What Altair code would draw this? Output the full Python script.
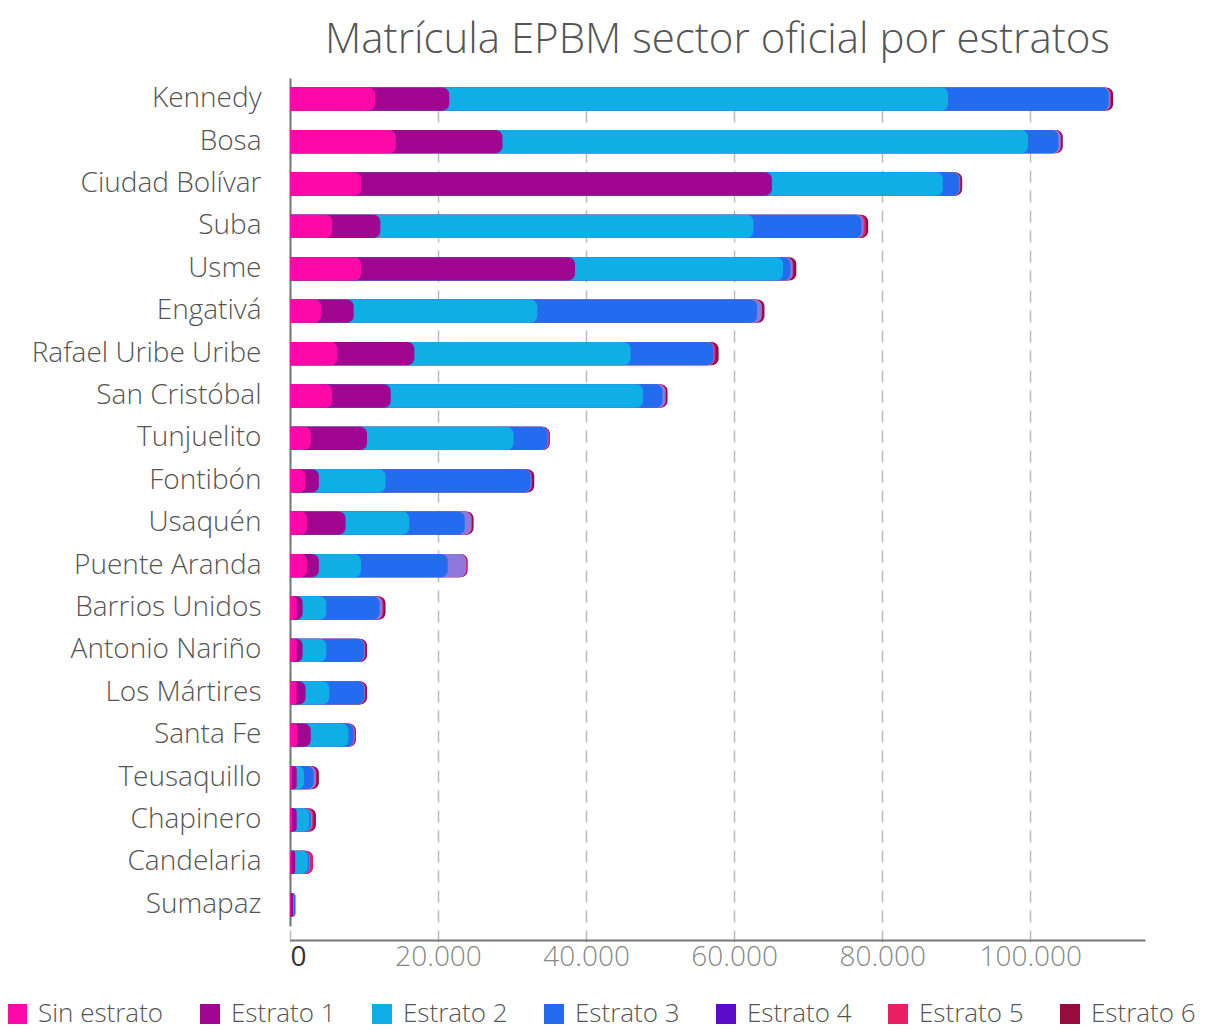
import altair as alt
import pandas as pd

localidades = ["Kennedy", "Bosa", "Ciudad Bolívar", "Suba", "Usme", "Engativá",
               "Rafael Uribe Uribe", "San Cristóbal", "Tunjuelito", "Fontibón",
               "Usaquén", "Puente Aranda", "Barrios Unidos", "Antonio Nariño",
               "Los Mártires", "Santa Fe", "Teusaquillo", "Chapinero",
               "Candelaria", "Sumapaz"]

categorias = ["Sin estrato", "Estrato 1", "Estrato 2", "Estrato 3",
              "Estrato 4", "Estrato 5", "Estrato 6"]

sin_estrato = [11500, 14300, 9600, 5700, 9600, 4200, 6400, 5700, 2800, 2100,
               2300, 2300, 900, 900, 900, 1000, 300, 300, 200, 100]
estrato_1 = [10000, 14400, 55500, 6500, 28900, 4400, 10400, 7900, 7600, 1800,
             5200, 1600, 800, 800, 1200, 1800, 600, 600, 500, 300]
estrato_2 = [67400, 71000, 23100, 50400, 28100, 24800, 29200, 34100, 19800, 9000,
             8600, 5700, 3200, 3200, 3200, 5100, 1000, 1700, 1700, 100]
estrato_3 = [21700, 4100, 2200, 14600, 1000, 29700, 11200, 2600, 4600, 19600,
             7500, 11700, 7200, 5100, 4700, 700, 1300, 200, 200, 200]
estrato_4 = [200, 300, 100, 300, 300, 600, 100, 400, 100, 100,
             900, 2500, 400, 100, 100, 100, 300, 200, 100, 0]
estrato_5 = [100, 100, 100, 300, 100, 100, 200, 100, 100, 100,
             100, 100, 100, 100, 100, 100, 100, 200, 400, 0]
estrato_6 = [300, 200, 200, 300, 400, 300, 400, 200, 100, 300,
             200, 100, 300, 200, 200, 100, 300, 300, 0, 0]

series = [sin_estrato, estrato_1, estrato_2, estrato_3, estrato_4, estrato_5, estrato_6]

legend_colors = ["#FF0AA8", "#A0068F", "#10AEE6", "#236CEF", "#5A0AC8", "#E91E63", "#990A3D"]
bar_colors = ["#FF0AA8", "#A0068F", "#10AEE6", "#236CEF", "#8E78DC", "#E91E63", "#990A3D"]

rows = []
for i, loc in enumerate(localidades):
    cum = 0
    for k, cat in enumerate(categorias):
        val = series[k][i]
        cum += val
        rows.append({"localidad": loc, "categoria": cat, "valor": val,
                     "fin": cum, "rank": k, "fill": bar_colors[k]})
df = pd.DataFrame(rows)

FONT = "Open Sans"

y_enc = alt.Y("localidad:N", sort=localidades, title=None,
              scale=alt.Scale(paddingInner=0.45, paddingOuter=0.225, range=[-2, 846]),
              axis=alt.Axis(labelFont=FONT, labelFontSize=28, labelFontWeight=300,
                            labelColor="#555", labelPadding=29, ticks=False,
                            domainColor="#777", domainWidth=2, labelLimit=400,
                            minExtent=282, maxExtent=282))

x_enc = alt.X("fin:Q", stack=None, title=None,
              scale=alt.Scale(domain=[0, 115500], nice=False),
              axis=alt.Axis(values=[0, 20000, 40000, 60000, 80000, 100000],
                            labelExpr="replace(format(datum.value, ','), ',', '.')",
                            labelFont=FONT, labelFontSize=28,
                            labelFontWeight={"condition": {"test": "datum.value === 0", "value": 400}, "value": 300},
                            labelColor={"condition": {"test": "datum.value === 0", "value": "#333"}, "value": "#888"},
                            labelPadding=3, ticks=False, domainColor="#777", domainWidth=2,
                            grid=True, gridColor="#bbb", gridWidth=1.5, gridDash=[12, 8]))

bars = alt.Chart(df).mark_bar(cornerRadiusTopRight=7, cornerRadiusBottomRight=7).encode(
    y=y_enc,
    x=x_enc,
    fill=alt.Fill("fill:N", scale=None, legend=None),
    order=alt.Order("rank:Q", sort="descending"),
)

legend_layer = alt.Chart(df).mark_bar(opacity=0).encode(
    y=alt.Y("localidad:N", sort=localidades),
    x=alt.X("fin:Q", stack=None),
    color=alt.Color("categoria:N", title=None,
                    scale=alt.Scale(domain=categorias, range=legend_colors),
                    legend=alt.Legend(orient="none", direction="horizontal",
                                      legendX=-286, legendY=921,
                                      symbolType="square", symbolSize=400,
                                      symbolOpacity=1, symbolStrokeWidth=0,
                                      labelFont=FONT, labelFontSize=26,
                                      labelFontWeight=300, labelColor="#555",
                                      labelOffset=8, columnPadding=33,
                                      labelLimit=400)),
)

chart = alt.layer(bars, legend_layer).properties(
    width=855, height=860,
    title=alt.TitleParams("Matrícula EPBM sector oficial por estratos",
                          font=FONT, fontSize=42, fontWeight=300, color="#555",
                          anchor="middle", offset=18),
    padding={"left": 282, "top": 72, "right": 65, "bottom": 90},
    autosize=alt.AutoSizeParams(type="none"),
).configure_view(stroke=None)

chart.save("out.html", embed_options={"renderer": "svg", "actions": False})
